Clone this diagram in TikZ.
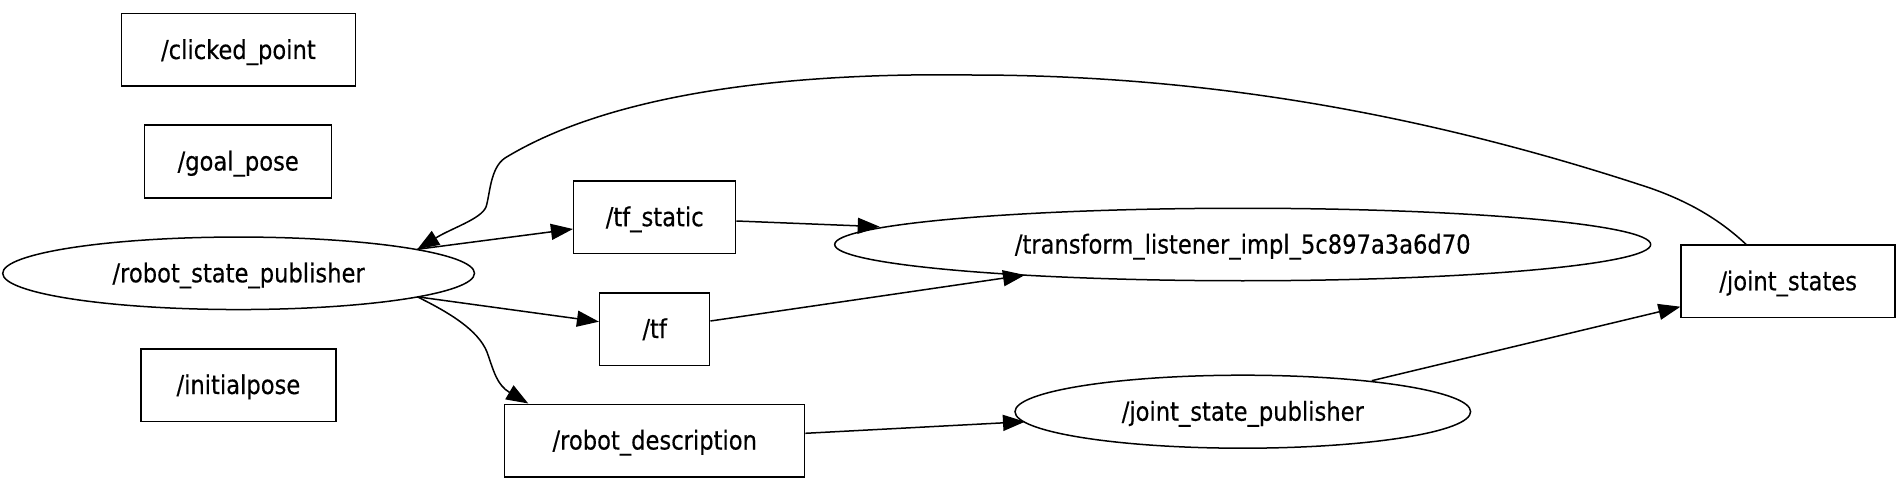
\documentclass[tikz,border=0pt]{standalone}
\usepackage{fontspec}
\setmainfont{DejaVu Sans}[FakeStretch=0.87,FakeBold=0.4]
\usetikzlibrary{arrows.meta,shapes.geometric}
\begin{document}
\begin{tikzpicture}[x=1pt,y=-1pt,line width=1.5pt,
  every node/.style={font=\fontsize{26}{30}\selectfont,inner sep=0pt,text height=22pt,text depth=4pt},
  topic/.style={draw,rectangle,minimum height=72.5pt},
  proc/.style={draw,ellipse,minimum height=72.5pt},
  edge/.style={-{Triangle[length=22pt,width=16pt]}}]
\useasboundingbox (0,0) rectangle (1899,484);

\node[topic,minimum width=234pt] (cp) at (238.4,50) {/clicked\_point};
\node[topic,minimum width=187pt] (gp) at (238.2,161.5) {/goal\_pose};
\node[proc,minimum width=471.8pt] (rsp) at (238.6,273.3) {/robot\_state\_publisher};
\node[topic,minimum width=195pt] (ip) at (238.4,385) {/initialpose};
\node[topic,minimum width=162pt] (tfs) at (654.7,217.2) {/tf\_static};
\node[topic,minimum width=110pt] (tf) at (654.7,329) {/tf};
\node[topic,minimum width=300pt] (rd) at (654.7,440.5) {/robot\_description};
\node[proc,minimum width=816pt] (tl) at (1242.7,244.5) {/transform\_listener\_impl\_5c897a3a6d70};
\node[proc,minimum width=455.6pt,minimum height=73pt] (jsp) at (1242.8,411.7) {/joint\_state\_publisher};
\node[topic,minimum width=214pt] (js) at (1788.2,281.3) {/joint\_states};

\draw[edge] ([xshift=178.7pt,yshift=24pt]rsp.center) -- ([yshift=-11.8pt]tfs.west);
\draw[edge] ([xshift=178.7pt,yshift=-23.5pt]rsp.center) -- ([yshift=7.3pt]tf.west);
\draw[edge] ([xshift=178.7pt,yshift=-23.5pt]rsp.center) .. controls (450,313) and (478,330) .. (487,352)
  .. controls (494,372) and (497,385) .. ([xshift=-126.4pt]rd.north);
\draw[edge] ([yshift=-3.8pt]tfs.east) -- ([xshift=-363pt,yshift=17.8pt]tl.center);
\draw[edge] ([yshift=8pt]tf.east) -- ([xshift=-217.7pt,yshift=-30.5pt]tl.center);
\draw[edge] ([yshift=7.2pt]rd.east) -- ([xshift=-217.8pt,yshift=-10pt]jsp.center);
\draw[edge] ([xshift=128.9pt,yshift=31pt]jsp.center) -- ([yshift=-25.4pt]js.west);
\draw[edge] ([xshift=-42.2pt]js.north) .. controls (1720,220) and (1690,202) .. (1650,188)
  .. controls (1420,112) and (1200,75) .. (971,75)
  .. controls (760,72) and (600,100) .. (505,158)
  .. controls (490,168) and (490,195) .. (486,207)
  .. controls (481,219) and (452,228) .. ([xshift=178.7pt,yshift=24pt]rsp.center);
\end{tikzpicture}
\end{document}
